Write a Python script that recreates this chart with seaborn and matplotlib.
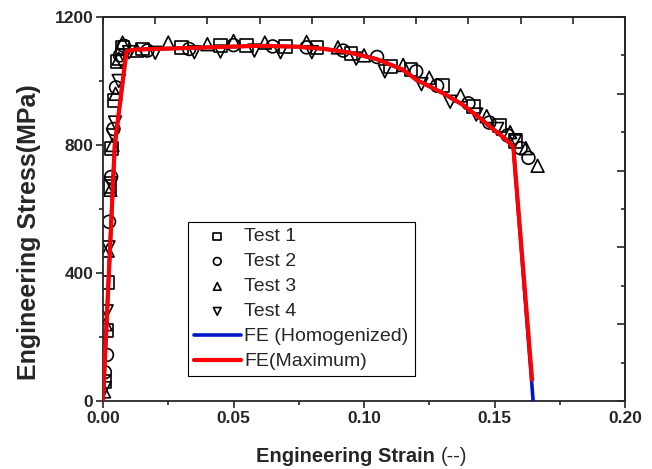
import numpy as np
import pandas as pd
import seaborn as sns
import matplotlib.pyplot as plt
from matplotlib.ticker import MultipleLocator

# measured test data (strain, stress in MPa)
t1_strain = [0.0005, 0.0012, 0.0019, 0.0027, 0.0034, 0.0042, 0.0055, 0.0075, 0.015, 0.03, 0.045,
             0.055, 0.07, 0.082, 0.095, 0.11, 0.118, 0.13, 0.142, 0.152, 0.158]
t1_stress = [60, 220, 370, 670, 790, 940, 1060, 1105, 1100, 1105, 1110,
             1112, 1108, 1105, 1085, 1045, 1035, 985, 920, 860, 810]
t2_strain = [0.0007, 0.0015, 0.0023, 0.0031, 0.004, 0.005, 0.0065, 0.008, 0.017, 0.033, 0.05,
             0.065, 0.078, 0.092, 0.105, 0.12, 0.128, 0.14, 0.148, 0.155, 0.16, 0.163]
t2_stress = [90, 144, 560, 700, 850, 980, 1080, 1110, 1095, 1100, 1112,
             1108, 1105, 1095, 1075, 1030, 985, 930, 870, 830, 790, 760]
t3_strain = [0.0004, 0.001, 0.0018, 0.0028, 0.0036, 0.0048, 0.006, 0.0075, 0.013, 0.025, 0.04, 0.05,
             0.062, 0.078, 0.09, 0.1, 0.115, 0.125, 0.137, 0.147, 0.156, 0.162, 0.1665]
t3_stress = [30, 240, 470, 660, 800, 960, 1070, 1120, 1095, 1120, 1115, 1125,
             1120, 1122, 1105, 1080, 1050, 1010, 955, 890, 840, 790, 735]
t4_strain = [0.0006, 0.0014, 0.0021, 0.003, 0.0038, 0.0046, 0.006, 0.007, 0.01, 0.02, 0.035, 0.045,
             0.058, 0.068, 0.08, 0.097, 0.108, 0.122, 0.133, 0.143, 0.151, 0.158]
t4_stress = [40, 280, 480, 680, 830, 870, 1000, 1060, 1090, 1088, 1090, 1092,
             1095, 1090, 1090, 1070, 1030, 990, 935, 895, 850, 815]

# FE curves
fe_hom_strain = [0, 0.0045, 0.009, 0.012, 0.02, 0.04, 0.06, 0.075, 0.085, 0.095, 0.105, 0.115,
                 0.1202, 0.13, 0.138, 0.145, 0.1483, 0.153, 0.1572, 0.1648]
fe_hom_stress = [0, 800, 1093, 1098, 1100, 1105, 1110, 1107, 1100, 1088, 1068, 1035,
                 1003, 963, 925, 880, 857, 827, 795, 0]
fe_max_strain = [0, 0.0045, 0.009, 0.012, 0.02, 0.04, 0.06, 0.075, 0.085, 0.095, 0.105, 0.115,
                 0.1202, 0.13, 0.138, 0.145, 0.1483, 0.153, 0.1572, 0.1644]
fe_max_stress = [0, 800, 1093, 1098, 1100, 1105, 1110, 1107, 1100, 1088, 1068, 1035,
                 1003, 963, 925, 880, 857, 827, 795, 66]

sns.set_style('ticks')
plt.rcParams['font.family'] = ['Liberation Sans', 'DejaVu Sans']

fig = plt.figure(figsize=(6.52, 4.69), dpi=100)
ax = fig.add_axes([0.158, 0.145, 0.8006, 0.8188])

tests = [('Test 1', t1_strain, t1_stress, 's'),
         ('Test 2', t2_strain, t2_stress, 'o'),
         ('Test 3', t3_strain, t3_stress, '^'),
         ('Test 4', t4_strain, t4_stress, 'v')]
for label, xs, ys, m in tests:
    d = pd.DataFrame({'strain': xs, 'stress': ys})
    sns.scatterplot(data=d, x='strain', y='stress', marker=m, s=85, fc='none', ec='black',
                    linewidth=1.2, label=label, ax=ax, zorder=2)

fe_hom = pd.DataFrame({'strain': fe_hom_strain, 'stress': fe_hom_stress})
fe_max = pd.DataFrame({'strain': fe_max_strain, 'stress': fe_max_stress})
sns.lineplot(data=fe_hom, x='strain', y='stress', sort=False, estimator=None, color='#0018c8',
             lw=2.6, label='FE (Homogenized)', ax=ax, zorder=3)
sns.lineplot(data=fe_max, x='strain', y='stress', sort=False, estimator=None, color='#ff0000',
             lw=3.0, label='FE(Maximum)', ax=ax, zorder=4)

for c in ax.collections:
    c.set_facecolor('none')

ax.set_xlim(0, 0.20)
ax.set_ylim(0, 1200)
ax.xaxis.set_major_locator(MultipleLocator(0.05))
ax.xaxis.set_minor_locator(MultipleLocator(0.025))
ax.yaxis.set_major_locator(MultipleLocator(400))
ax.yaxis.set_minor_locator(MultipleLocator(200))
ax.xaxis.set_major_formatter(plt.FuncFormatter(lambda v, p: f'{v:.2f}'))
ax.tick_params(which='major', direction='out', length=5, width=1.2, labelsize=12.5, pad=2)
ax.tick_params(which='minor', direction='out', length=3, width=1.2)
for lab in ax.get_xticklabels() + ax.get_yticklabels():
    lab.set_fontweight('bold')
for s in ax.spines.values():
    s.set_linewidth(1.3)
    s.set_visible(True)

top = ax.secondary_xaxis('top')
top.xaxis.set_major_locator(MultipleLocator(0.02))
top.tick_params(direction='in', length=5, width=1.2, labeltop=False)
top.spines['top'].set_linewidth(1.3)
right = ax.secondary_yaxis('right')
right.yaxis.set_major_locator(MultipleLocator(240))
right.yaxis.set_minor_locator(MultipleLocator(120))
right.tick_params(which='major', direction='in', length=6, width=1.2, labelright=False)
right.tick_params(which='minor', direction='in', length=3, width=1.2)
right.spines['right'].set_linewidth(1.3)

ax.set_xlabel('')
ax.set_ylabel('')
fig.text(0.045, 0.505, 'Engineering Stress(MPa)', fontsize=18, fontweight='bold',
         rotation=90, ha='center', va='center')
fig.text(0.676, 0.015, 'Engineering Strain ', fontsize=14.5, fontweight='bold', ha='right', va='baseline')
fig.text(0.676, 0.015, '(--)', fontsize=14.5, ha='left', va='baseline')

handles, labels = ax.get_legend_handles_labels()
order = ['Test 1', 'Test 2', 'Test 3', 'Test 4', 'FE (Homogenized)', 'FE(Maximum)']
hmap = dict(zip(labels, handles))
leg = ax.legend([hmap[k] for k in order], order, loc='upper left', bbox_to_anchor=(0.163, 0.466),
                fontsize=14, frameon=True, fancybox=False, edgecolor='black', framealpha=1,
                markerscale=0.6, handlelength=2.4, handletextpad=0.2, labelspacing=0.38,
                borderpad=0.3, borderaxespad=0)
leg.get_frame().set_linewidth(0.8)

fig.savefig('out.png', dpi=100)
